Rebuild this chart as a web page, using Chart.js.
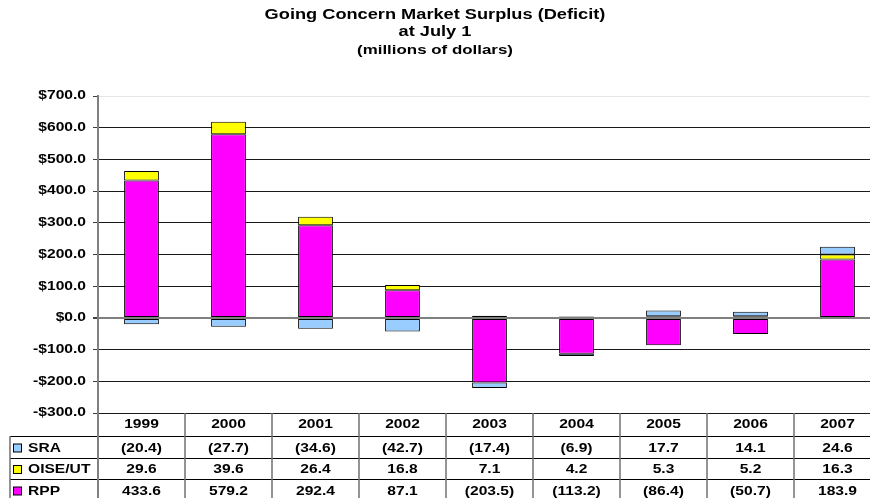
<!DOCTYPE html>
<html>
<head>
<meta charset="utf-8">
<script src="https://cdn.jsdelivr.net/npm/chart.js@4"></script>
<style>
  html, body { margin: 0; padding: 0; background: #ffffff; overflow: hidden; }
  #wrap { width: 870px; height: 498px; overflow: hidden; position: relative; }
  #chart { display: block; }
</style>
</head>
<body>
<div id="wrap"><canvas id="chart" width="896" height="498"></canvas></div>
<script>
// Fiscal years (July 1 valuations)
const years = ['1999', '2000', '2001', '2002', '2003', '2004', '2005', '2006', '2007'];

// Going concern surplus (deficit), millions of dollars
const sra  = [-20.4, -27.7, -34.6, -42.7, -17.4, -6.9, 17.7, 14.1, 24.6];
const oise = [29.6, 39.6, 26.4, 16.8, 7.1, 4.2, 5.3, 5.2, 16.3];
const rpp  = [433.6, 579.2, 292.4, 87.1, -203.5, -113.2, -86.4, -50.7, 183.9];

// Value axis ticks
const yTicks = [700, 600, 500, 400, 300, 200, 100, 0, -100, -200, -300];

const titleLines = ['Going Concern Market Surplus (Deficit)', 'at July 1', '(millions of dollars)'];

const colors = { SRA: '#99CCFF', 'OISE/UT': '#FFFF00', RPP: '#FF00FF' };

// rows of the data table under the chart, top to bottom
const tableRows = [
  { label: 'SRA', values: sra },
  { label: 'OISE/UT', values: oise },
  { label: 'RPP', values: rpp }
];

const FONT = '"Liberation Sans", Arial, Helvetica, sans-serif';
const SX = 1.3; // horizontal stretch of all lettering

function fmtMoney(v) {
  return (v < 0 ? '-$' : '$') + Math.abs(v).toFixed(1);
}
function fmtTable(v) {
  return v < 0 ? '(' + Math.abs(v).toFixed(1) + ')' : v.toFixed(1);
}
function text(ctx, str, x, y, align, size) {
  ctx.save();
  ctx.font = 'bold ' + size + 'px ' + FONT;
  ctx.fillStyle = '#000000';
  ctx.textAlign = align;
  ctx.textBaseline = 'middle';
  ctx.translate(x, y);
  ctx.scale(SX, 1);
  ctx.fillText(str, 0, 0);
  ctx.restore();
}
function line(ctx, x1, y1, x2, y2, color, w) {
  ctx.save();
  ctx.strokeStyle = color;
  ctx.lineWidth = w;
  ctx.beginPath();
  ctx.moveTo(x1, y1);
  ctx.lineTo(x2, y2);
  ctx.stroke();
  ctx.restore();
}

// Title, value-axis labels and the data table
const decorations = {
  id: 'decorations',
  afterDraw(chart) {
    const ctx = chart.ctx;
    const area = chart.chartArea;
    const xs = chart.scales.x;
    const ys = chart.scales.y;
    const cx = 435;

    text(ctx, titleLines[0], cx, 15, 'center', 14);
    text(ctx, titleLines[1], cx, 32, 'center', 14);
    text(ctx, titleLines[2], cx, 50, 'center', 13);

    yTicks.forEach(v => {
      text(ctx, fmtMoney(v), 86, ys.getPixelForValue(v), 'right', 12);
    });

    const colW = (area.right - area.left) / years.length;
    const top = area.bottom;
    const headerBottom = top + 23;
    const rowH = 21.5;
    const tableBottom = chart.height + 5;
    const legendLeft = 10;

    // horizontal rules
    for (let r = 0; r < tableRows.length; r++) {
      const y = Math.round(headerBottom + r * rowH) + 0.5;
      line(ctx, legendLeft, y, area.right, y, '#000000', 1);
    }
    // vertical rules
    line(ctx, area.left, top, area.left, tableBottom, '#808080', 2);
    for (let i = 1; i <= years.length; i++) {
      const x = area.left + i * colW;
      line(ctx, x, top, x, tableBottom, '#707070', 1.5);
    }
    line(ctx, legendLeft, headerBottom, legendLeft, tableBottom, '#707070', 1.5);

    // year headers
    years.forEach((yr, i) => {
      text(ctx, yr, xs.getPixelForValue(i), top + 12, 'center', 12);
    });

    // series rows
    tableRows.forEach((row, r) => {
      const yMid = headerBottom + r * rowH + 12.5;
      ctx.save();
      ctx.fillStyle = colors[row.label];
      ctx.strokeStyle = '#000000';
      ctx.lineWidth = 1;
      ctx.fillRect(13.5, yMid - 4.5, 8, 8);
      ctx.strokeRect(13.5, yMid - 4.5, 8, 8);
      ctx.restore();
      text(ctx, row.label, 28, yMid, 'left', 12);
      row.values.forEach((v, i) => {
        text(ctx, fmtTable(v), xs.getPixelForValue(i), yMid, 'center', 12);
      });
    });
  }
};

new Chart(document.getElementById('chart'), {
  type: 'bar',
  data: {
    labels: years,
    datasets: [
      { label: 'RPP', data: rpp, backgroundColor: colors.RPP },
      { label: 'OISE/UT', data: oise, backgroundColor: colors['OISE/UT'] },
      { label: 'SRA', data: sra, backgroundColor: colors.SRA }
    ].map(d => Object.assign(d, {
      borderColor: '#000000',
      borderWidth: 1,
      borderSkipped: false,
      categoryPercentage: 1,
      barPercentage: 0.40
    }))
  },
  options: {
    responsive: false,
    animation: false,
    devicePixelRatio: 1,
    layout: { padding: { top: 96, bottom: 85, left: 0, right: 15 } },
    plugins: {
      legend: { display: false },
      title: { display: false },
      tooltip: { enabled: false }
    },
    scales: {
      x: {
        stacked: true,
        display: false
      },
      y: {
        stacked: true,
        min: -300,
        max: 700,
        afterFit(scale) { scale.width = 98; },
        afterBuildTicks(scale) { scale.ticks = yTicks.map(v => ({ value: v })); },
        ticks: { display: false },
        border: { display: true, color: '#808080', width: 2 },
        grid: {
          drawTicks: true,
          tickLength: 5,
          tickColor: '#404040',
          color: c => c.tick.value === 0 ? '#808080' : (c.tick.value === 700 ? '#e6e6e6' : '#1a1a1a'),
          lineWidth: c => c.tick.value === 0 ? 2 : 1
        }
      }
    }
  },
  plugins: [decorations]
});
</script>
</body>
</html>
